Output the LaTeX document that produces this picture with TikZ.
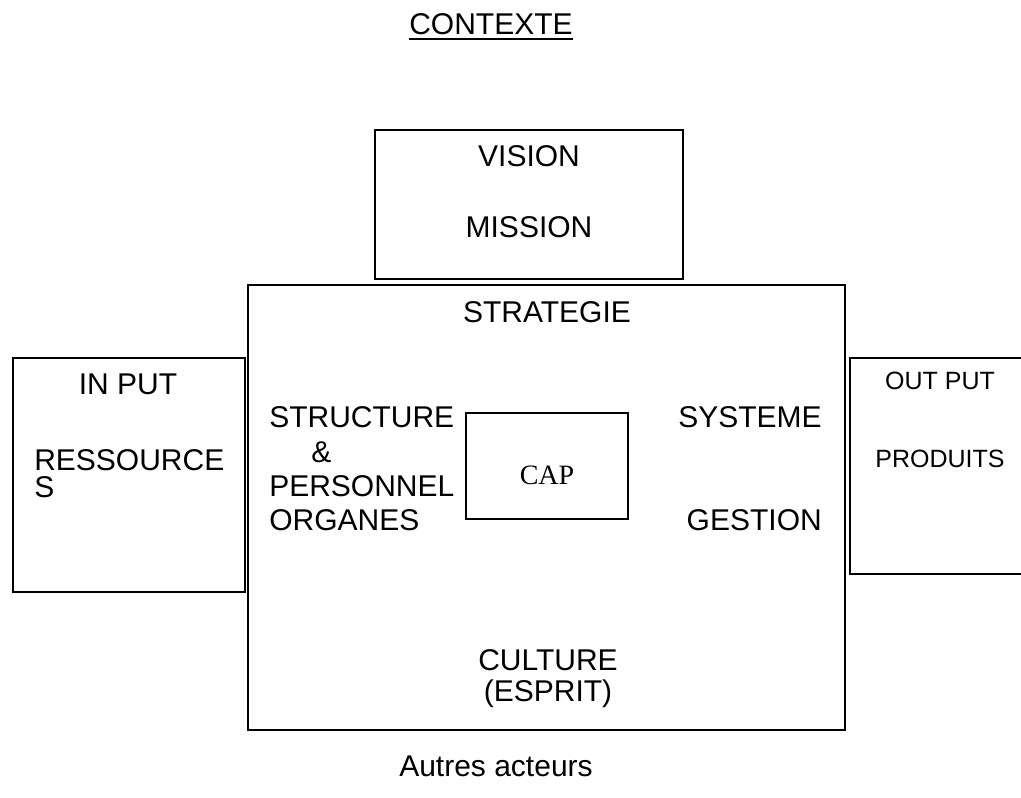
\documentclass[tikz,border=0pt]{standalone}
\usepackage{fontspec}
\usetikzlibrary{calc}
\setmainfont{Liberation Sans}
\newfontfamily\capfont{Liberation Serif}
\begin{document}
\begin{tikzpicture}[x=0.75pt,y=-0.75pt,
  box/.style={draw=black,line width=1.4pt,fill=none},
  lbl/.style={inner sep=0pt,font=\fontsize{22.5}{26}\selectfont},
  small/.style={inner sep=0pt,font=\fontsize{18.75}{22}\selectfont}]
\useasboundingbox (0,0) rectangle (1021,798);
\clip (0,0) rectangle (1021,798);

% frames
\draw[box] (375,130) rectangle (683,279);   % vision / mission
\draw[box] (248,285) rectangle (845,730);   % organisation
\draw[box] (13,358) rectangle (245,592);    % inputs
\draw[box] (850,358) rectangle (1040,574);  % outputs
\draw[box,line width=1.1pt] (466,413) rectangle (628,519); % core

% title
\node[lbl,anchor=base] (contexte) at (491,35) {CONTEXTE};
\draw[line width=1.5pt] ($(contexte.base west)+(0,4)$) -- ($(contexte.base east)+(0,4)$);

% vision box
\node[lbl,anchor=base] (vision) at (529,167) {VISION};
\node[lbl,anchor=base] (mission) at (529,238) {MISSION};

% main box
\node[lbl,anchor=base] (strategie) at (547,323) {STRATEGIE};
\node[lbl,anchor=base west] (structure) at (269,427) {STRUCTURE};
\node[lbl,anchor=base west] (et) at (311,462) {\&};
\node[lbl,anchor=base west] (personnel) at (269,496) {PERSONNEL};
\node[lbl,anchor=base west] (organes) at (269,530) {ORGANES};
\node[inner sep=0pt,anchor=base,font=\capfont\fontsize{21}{24}\selectfont] (cap) at (547,484) {CAP};
\node[lbl,anchor=base east] (systeme) at (822,427) {SYSTEME};
\node[lbl,anchor=base east] (gestion) at (822,530) {GESTION};
\node[lbl,anchor=base] (culture) at (548,670) {CULTURE};
\node[lbl,anchor=base] (esprit) at (548,701) {(ESPRIT)};

% inputs
\node[lbl,anchor=base] (input) at (128,395) {IN PUT};
\node[lbl,anchor=base west] (ress) at (34,470) {RESSOURCE};
\node[lbl,anchor=base west] (ress2) at (34,498) {S};

% outputs
\node[small,anchor=base] (output) at (940,390) {OUT PUT};
\node[small,anchor=base] (produits) at (940,468) {PRODUITS};

% bottom
\node[lbl,anchor=base] (autres) at (496,776) {Autres acteurs};
\end{tikzpicture}
\end{document}
